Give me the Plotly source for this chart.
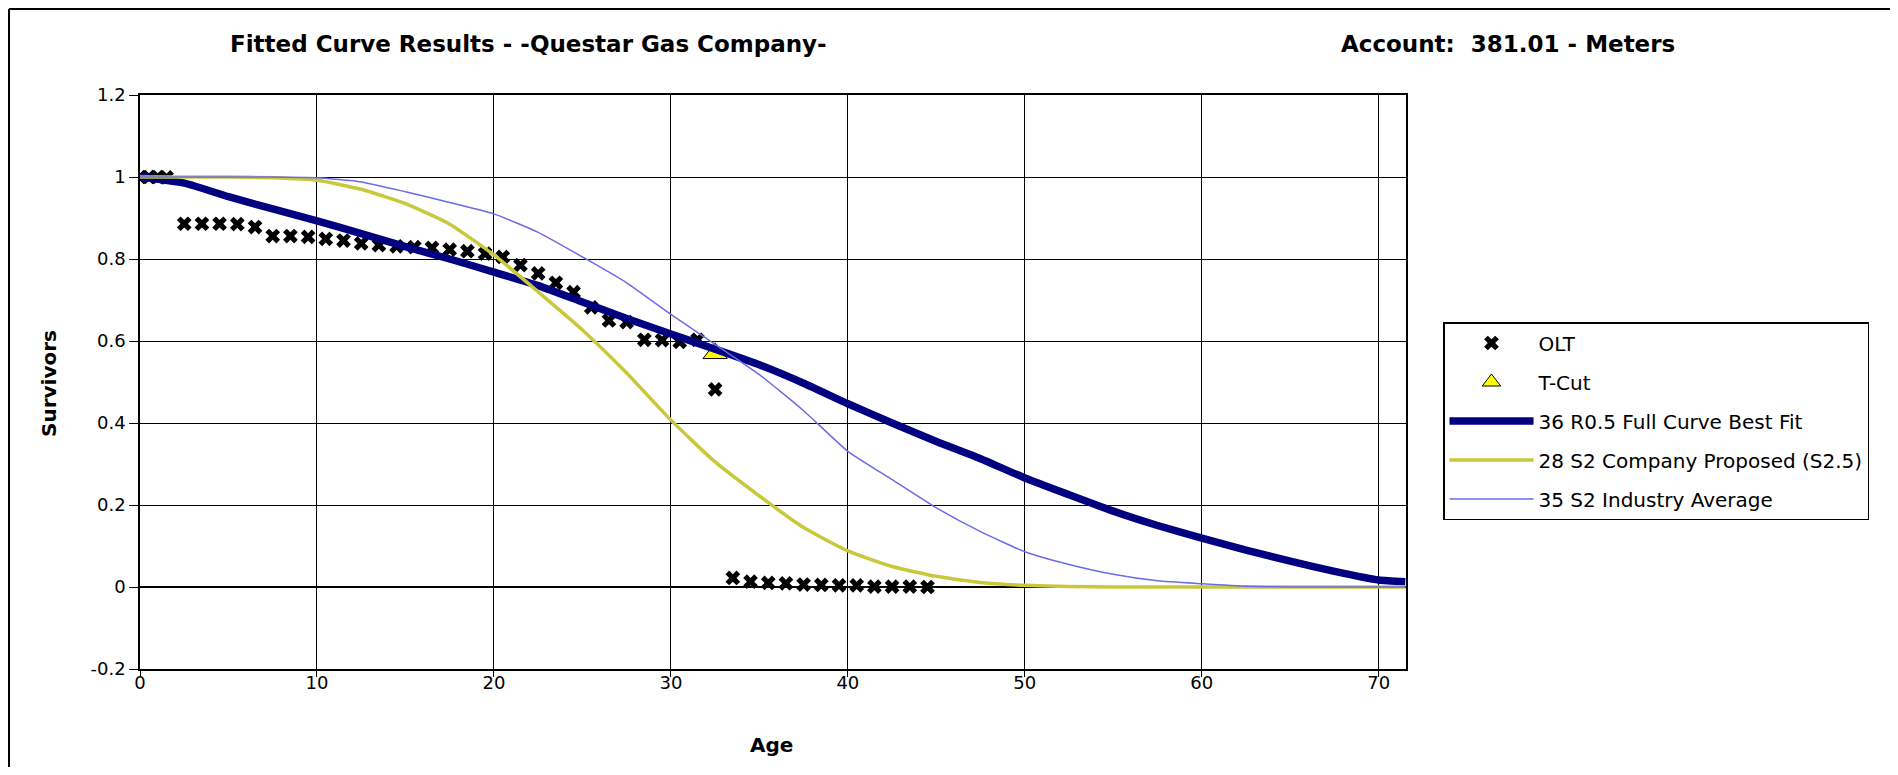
import plotly.graph_objects as go

# ---------------- data ----------------
olt_age = [0, 0.5, 1, 1.5, 2.5, 3.5, 4.5, 5.5, 6.5, 7.5, 8.5, 9.5, 10.5, 11.5, 12.5,
           13.5, 14.5, 15.5, 16.5, 17.5, 18.5, 19.5, 20.5, 21.5, 22.5, 23.5, 24.5,
           25.5, 26.5, 27.5, 28.5, 29.5, 30.5, 31.5, 32.5, 33.5, 34.5, 35.5, 36.5,
           37.5, 38.5, 39.5, 40.5, 41.5, 42.5, 43.5, 44.5]
olt_surv = [1.0, 1.0, 1.0, 0.999, 0.886, 0.886, 0.886, 0.885, 0.878, 0.856, 0.856,
            0.854, 0.849, 0.845, 0.838, 0.834, 0.831, 0.829, 0.827, 0.823, 0.819,
            0.813, 0.805, 0.785, 0.765, 0.742, 0.719, 0.682, 0.650, 0.646, 0.603,
            0.602, 0.598, 0.603, 0.482, 0.022, 0.013, 0.010, 0.009, 0.006, 0.005,
            0.004, 0.004, 0.001, 0.001, 0.001, 0.0]

tcut_age = [32.5]
tcut_surv = [0.57]

curve_age = [0, 2.5, 5, 7.5, 10, 12.5, 15, 17.5, 20, 22.5, 25, 27.5, 30, 32.5, 35,
             37.5, 40, 42.5, 45, 47.5, 50, 52.5, 55, 57.5, 60, 62.5, 65, 67.5, 70, 71.5]
r05_best_fit = [1.0, 0.985, 0.952, 0.922, 0.893, 0.862, 0.830, 0.800, 0.768, 0.735,
                0.695, 0.655, 0.617, 0.580, 0.542, 0.497, 0.447, 0.400, 0.355, 0.313,
                0.266, 0.225, 0.185, 0.150, 0.119, 0.090, 0.063, 0.038, 0.017, 0.013]
s2_company = [1.0, 1.0, 1.0, 0.998, 0.992, 0.970, 0.935, 0.885, 0.810, 0.720,
              0.627, 0.522, 0.407, 0.305, 0.222, 0.145, 0.088, 0.050, 0.026, 0.011,
              0.004, 0.001, 0.0, 0.0, 0.0, 0.0, 0.0, 0.0, 0.0, 0.0]
s2_industry = [1.0, 1.0, 1.0, 1.0, 0.998, 0.988, 0.964, 0.938, 0.910, 0.865,
               0.805, 0.742, 0.665, 0.592, 0.518, 0.430, 0.331, 0.262, 0.193, 0.135,
               0.086, 0.055, 0.031, 0.015, 0.008, 0.002, 0.0, 0.0, 0.0, 0.0]

x_ticks = [0, 10, 20, 30, 40, 50, 60, 70]
y_ticks = [-0.2, 0, 0.2, 0.4, 0.6, 0.8, 1.0, 1.2]
y_tick_text = ["-0.2", "0", "0.2", "0.4", "0.6", "0.8", "1", "1.2"]

# ---------------- layout geometry (page pixels; body has an 8px margin) ----------------
OFF = 8
W, H = 1898 - OFF, 775 - 2 * OFF
L, R, T, B = 140, 1406, 95, 669   # plot area in page pixels


def px(x):
    return (x - L) / (R - L)


def py(y):
    return (B - y) / (B - T)


FONT = "DejaVu Sans, Verdana, sans-serif"

fig = go.Figure()

fig.add_trace(go.Scatter(
    x=olt_age, y=olt_surv, mode="markers", name="OLT", legendgroup="a",
    marker=dict(symbol="x", size=13, color="black", line=dict(width=0))))
fig.add_trace(go.Scatter(
    x=tcut_age, y=tcut_surv, mode="markers", name="T-Cut", legendgroup="b",
    marker=dict(symbol="triangle-up", size=21, color="#FFFF00",
                line=dict(color="black", width=1))))
fig.add_trace(go.Scatter(
    x=curve_age, y=r05_best_fit, mode="lines", name="36 R0.5 Full Curve Best Fit",
    legendgroup="c", line=dict(color="#000080", width=7.5, shape="spline", smoothing=0.5)))
fig.add_trace(go.Scatter(
    x=curve_age, y=s2_company, mode="lines", name="28 S2 Company Proposed (S2.5)",
    legendgroup="d", line=dict(color="#C8C83A", width=3.5, shape="spline", smoothing=0.5)))
fig.add_trace(go.Scatter(
    x=curve_age, y=s2_industry, mode="lines", name="35 S2 Industry Average",
    legendgroup="e", line=dict(color="#6B6BE8", width=1.5, shape="spline", smoothing=0.5)))

axis_common = dict(
    showgrid=True, gridcolor="black", gridwidth=1.3,
    showline=True, linecolor="black", linewidth=1.5, mirror=True,
    ticks="outside", tickcolor="black", tickwidth=1.2,
    tickfont=dict(family=FONT, size=18, color="black"),
    zeroline=False,
)

fig.update_layout(
    width=W, height=H,
    margin=dict(l=L - OFF, r=W - (R - OFF), t=T - OFF, b=H - (B - OFF), autoexpand=False),
    paper_bgcolor="white", plot_bgcolor="white",
    xaxis=dict(range=[0, 71.54], tickvals=x_ticks, ticklen=6, ticklabelstandoff=-9,
               **axis_common),
    yaxis=dict(range=[-0.2, 1.2], tickvals=y_ticks, ticktext=y_tick_text, ticklen=9,
               **axis_common),
    showlegend=True,
    legend=dict(
        x=px(1443), y=py(322), xanchor="left", yanchor="top",
        bordercolor="black", borderwidth=1.5, bgcolor="white",
        font=dict(family=FONT, size=20, color="black"),
        itemwidth=84, traceorder="grouped", tracegroupgap=10,
    ),
    annotations=[
        dict(text="<b>Fitted Curve Results - -Questar Gas Company-</b>",
             x=px(528), y=py(44), xref="paper", yref="paper", showarrow=False,
             xanchor="center", yanchor="middle",
             font=dict(family=FONT, size=23, color="black")),
        dict(text="<b>Account:  381.01 - Meters</b>",
             x=px(1508), y=py(44), xref="paper", yref="paper", showarrow=False,
             xanchor="center", yanchor="middle",
             font=dict(family=FONT, size=23, color="black")),
        dict(text="<b>Survivors</b>", textangle=-90,
             x=px(49), y=py(384), xref="paper", yref="paper", showarrow=False,
             xanchor="center", yanchor="middle",
             font=dict(family=FONT, size=20, color="black")),
        dict(text="<b>Age</b>",
             x=px(771), y=py(745), xref="paper", yref="paper", showarrow=False,
             xanchor="center", yanchor="middle",
             font=dict(family=FONT, size=20, color="black")),
    ],
    shapes=[
        dict(type="line", xref="x", yref="y", x0=0, x1=71.54, y0=0, y1=0,
             line=dict(color="black", width=2), layer="below"),
        # outer chart frame (top / left / right edges)
        dict(type="line", xref="paper", yref="paper",
             x0=px(9), x1=px(1893), y0=py(9), y1=py(9),
             line=dict(color="black", width=2)),
        dict(type="line", xref="paper", yref="paper",
             x0=px(9), x1=px(9), y0=py(9), y1=py(767),
             line=dict(color="black", width=2)),
        dict(type="line", xref="paper", yref="paper",
             x0=px(1893), x1=px(1893), y0=py(9), y1=py(767),
             line=dict(color="#555555", width=2)),
    ],
)

fig.write_html("out.html")
